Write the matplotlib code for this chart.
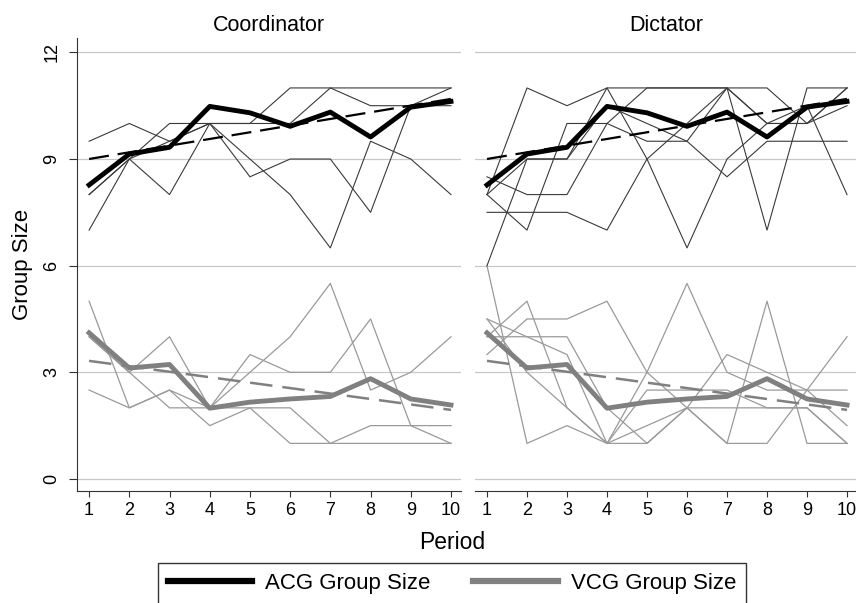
import numpy as np
import matplotlib
matplotlib.use("Agg")
import matplotlib.pyplot as plt
from matplotlib.lines import Line2D

plt.rcParams['font.family'] = ['Liberation Sans', 'DejaVu Sans']

periods = [1, 2, 3, 4, 5, 6, 7, 8, 9, 10]

# overall means (same in both panels)
acg_mean = [8.27, 9.14, 9.33, 10.48, 10.3, 9.92, 10.32, 9.62, 10.46, 10.62]
vcg_mean = [4.11, 3.12, 3.22, 1.99, 2.16, 2.25, 2.32, 2.82, 2.25, 2.08]

# coordinator groups
coord_acg_1 = [9.5, 10, 9.5, 10, 10, 11, 11, 11, 11, 11]
coord_acg_2 = [8, 9, 10, 10, 10, 10, 11, 10.5, 10.5, 11]
coord_acg_3 = [7, 9, 8, 10, 8.5, 9, 9, 7.5, 10.5, 10.5]
coord_acg_4 = [8, 9, 9.5, 10, 9, 8, 6.5, 9.5, 9, 8]

coord_vcg_1 = [5, 2, 2.5, 1.5, 2, 1, 1, 1, 1, 1]
coord_vcg_2 = [2.5, 2, 2.5, 2, 3.5, 3, 3, 4.5, 1.5, 1]
coord_vcg_3 = [4, 3, 4, 2, 3, 4, 5.5, 2.5, 3, 4]
coord_vcg_4 = [4, 3, 2, 2, 2, 2, 1, 1.5, 1.5, 1.5]

# dictator groups
dict_acg_1 = [8, 11, 10.5, 11, 11, 11, 11, 11, 10, 11]
dict_acg_2 = [8.5, 8, 8, 10, 11, 11, 11, 10, 10, 10.5]
dict_acg_3 = [8, 7, 10, 10, 9.5, 9.5, 8.5, 9.5, 9.5, 9.5]
dict_acg_4 = [7.5, 7.5, 7.5, 7, 9, 10, 11, 7, 11, 11]
dict_acg_5 = [6, 9, 9, 11, 9, 6.5, 9, 10, 10, 11]
dict_acg_6 = [8, 9, 9, 10.5, 10, 9.5, 11, 10, 10.5, 8]

dict_vcg_1 = [6, 1, 1.5, 1, 1, 2, 2, 2, 2, 1]
dict_vcg_2 = [4, 5, 2, 1, 1.5, 2, 3.5, 3, 2.5, 2.5]
dict_vcg_3 = [4.5, 4, 3.5, 1, 3, 5.5, 3, 2.5, 2.5, 1.5]
dict_vcg_4 = [3.5, 4.5, 4.5, 5, 3, 2, 1, 5, 1, 1]
dict_vcg_5 = [4, 4, 4, 2, 1, 2, 1, 1, 2.5, 4]
dict_vcg_6 = [4.5, 3, 2, 1, 2.5, 2.5, 2.5, 2, 2, 1]

panels = [
    ("Coordinator", [coord_acg_1, coord_acg_2, coord_acg_3, coord_acg_4],
     [coord_vcg_1, coord_vcg_2, coord_vcg_3, coord_vcg_4]),
    ("Dictator", [dict_acg_1, dict_acg_2, dict_acg_3, dict_acg_4, dict_acg_5, dict_acg_6],
     [dict_vcg_1, dict_vcg_2, dict_vcg_3, dict_vcg_4, dict_vcg_5, dict_vcg_6]),
]

acg_col = 'black'
vcg_col = '#808080'

# linear trend of the means
x = np.array(periods)
acg_fit = np.polyval(np.polyfit(x, acg_mean, 1), x)
vcg_fit = np.polyval(np.polyfit(x, vcg_mean, 1), x)

fig = plt.figure(figsize=(8.56, 6.03), dpi=100)
ax_pos = [[0.09, 0.1857, 0.4486, 0.751], [0.5549, 0.1857, 0.4463, 0.751]]

for i, (title, acg_groups, vcg_groups) in enumerate(panels):
    ax = fig.add_axes(ax_pos[i])
    for yv in [0, 3, 6, 9, 12]:
        ax.axhline(yv, color='#c8c8c8', lw=0.9, zorder=0)
    for g in vcg_groups:
        ax.plot(periods, g, color='#9a9a9a', lw=0.9, zorder=1)
    for g in acg_groups:
        ax.plot(periods, g, color='#3a3a3a', lw=0.8, zorder=2)
    ax.plot(periods, vcg_mean, color=vcg_col, lw=3.5, zorder=3)
    ax.plot(periods, vcg_fit, color=vcg_col, lw=1.8, ls=(0, (9, 4)), zorder=3)
    ax.plot(periods, acg_mean, color=acg_col, lw=3.5, zorder=4)
    ax.plot(periods, acg_fit, color=acg_col, lw=1.6, ls=(0, (9, 4)), zorder=4)

    ax.set_xlim(0.7, 10.25)
    ax.set_ylim(-0.34, 12.4)
    ax.set_xticks(periods)
    ax.tick_params(axis='x', labelsize=13, length=4.5, width=0.8, color='#333333', pad=3.5)
    ax.set_title(title, fontsize=15.5, pad=5)
    for s in ['top', 'right']:
        ax.spines[s].set_visible(False)
    ax.spines['bottom'].set_color('#333333')
    if i == 0:
        ax.set_yticks([0, 3, 6, 9, 12])
        ax.set_yticklabels(['0', '3', '6', '9', '12'], rotation=90, va='center')
        ax.tick_params(axis='y', labelsize=13, length=6, width=0.8, color='#333333', pad=6)
        ax.spines['left'].set_color('#333333')
        ax.set_ylabel('Group Size', fontsize=16)
        ax.yaxis.set_label_coords(-0.115, 0.5)
    else:
        ax.set_yticks([])
        ax.spines['left'].set_visible(False)

fig.text(0.528, 0.101, 'Period', fontsize=16.5, ha='center', va='center')

handles = [Line2D([], [], color=acg_col, lw=4.5),
           Line2D([], [], color=vcg_col, lw=4.5)]
leg = fig.legend(handles, ['ACG Group Size', 'VCG Group Size'], loc='upper center',
                 bbox_to_anchor=(0.528, 0.066), ncol=2, fontsize=16, frameon=True,
                 fancybox=False, edgecolor='black', handlelength=3.8,
                 columnspacing=1.9, borderpad=0.45, handletextpad=0.6,
                 borderaxespad=0)
leg.get_frame().set_linewidth(1.0)

fig.savefig('out.png', dpi=100)
